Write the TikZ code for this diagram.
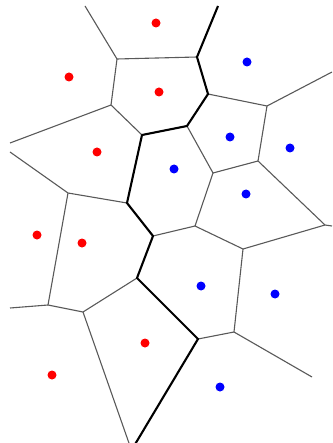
\documentclass[tikz,border=0pt]{standalone}
\begin{document}
\begin{tikzpicture}[x=1pt,y=-1pt,
  edge/.style={draw=black!65,line width=1.1pt},
  border/.style={draw=black,line width=2.1pt,line join=round},
  redsite/.style={circle,fill=red,inner sep=0pt,minimum size=9pt},
  bluesite/.style={circle,fill=blue,inner sep=0pt,minimum size=9pt}]
\useasboundingbox (0,0) rectangle (332,443);
\clip (0,0) rectangle (332,443);
% Voronoi vertices
\coordinate (V1) at (117,59);
\coordinate (V2) at (197,57);
\coordinate (V3) at (111,105);
\coordinate (V4) at (142,135);
\coordinate (V5) at (187,126);
\coordinate (V6) at (208,94);
\coordinate (V7) at (267,106);
\coordinate (V8) at (213,173);
\coordinate (V9) at (258,161);
\coordinate (V10) at (325,225);
\coordinate (V11) at (243,249);
\coordinate (V12) at (195,226);
\coordinate (V13) at (68,193);
\coordinate (V14) at (127,203);
\coordinate (V15) at (153,236);
\coordinate (V16) at (137,278);
\coordinate (V17) at (48,305);
\coordinate (V18) at (83,312);
\coordinate (V19) at (198,339);
\coordinate (V20) at (234,332);
% free ends
\coordinate (E1) at (85,6);
\coordinate (E2) at (218,6);
\coordinate (E3) at (10,143);
\coordinate (E4) at (332,72);
\coordinate (E5) at (10,152);
\coordinate (E6) at (332,226);
\coordinate (E7) at (10,308);
\coordinate (E8) at (312,377);
\coordinate (E9) at (130,446);
\coordinate (E10) at (134,446);
% thin edges
\draw[edge] (E1) -- (V1) -- (V2);
\draw[edge] (V1) -- (V3) -- (V4);
\draw[edge] (E3) -- (V3);
\draw[edge] (V6) -- (V7) -- (E4);
\draw[edge] (V7) -- (V9) -- (V10) -- (E6);
\draw[edge] (V5) -- (V8) -- (V9);
\draw[edge] (V8) -- (V12) -- (V11) -- (V10);
\draw[edge] (V11) -- (V20) -- (E8);
\draw[edge] (V12) -- (V15);
\draw[edge] (V19) -- (V20);
\draw[edge] (E5) -- (V13) -- (V14);
\draw[edge] (V13) -- (V17) -- (V18) -- (V16);
\draw[edge] (E7) -- (V17);
\draw[edge] (V18) -- (E9);
% red/blue border
\draw[border] (E2) -- (V2) -- (V6) -- (V5) -- (V4) -- (V14) -- (V15) -- (V16) -- (V19) -- (E10);
% sites
\node[redsite] (r1) at (156,23) {};
\node[redsite] (r2) at (69,77) {};
\node[redsite] (r3) at (159,92) {};
\node[redsite] (r4) at (97,152) {};
\node[redsite] (r5) at (37,235) {};
\node[redsite] (r6) at (82,243) {};
\node[redsite] (r7) at (145,343) {};
\node[redsite] (r8) at (52,375) {};
\node[bluesite] (b1) at (247,62) {};
\node[bluesite] (b2) at (230,137) {};
\node[bluesite] (b3) at (290,148) {};
\node[bluesite] (b4) at (174,169) {};
\node[bluesite] (b5) at (246,194) {};
\node[bluesite] (b6) at (201,286) {};
\node[bluesite] (b7) at (275,294) {};
\node[bluesite] (b8) at (220,387) {};
\end{tikzpicture}
\end{document}
